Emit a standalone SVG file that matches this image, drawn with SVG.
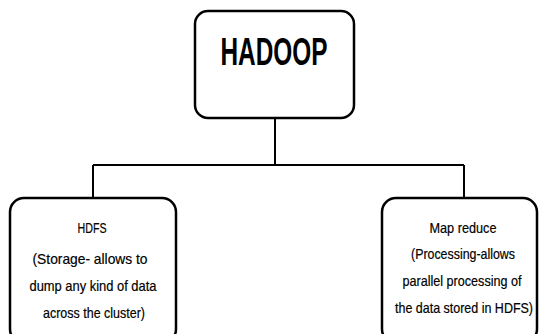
<svg xmlns="http://www.w3.org/2000/svg" width="541" height="334" viewBox="0 0 541 334">
  <style>
    .box { fill: #ffffff; stroke: #000000; stroke-width: 2.5; }
    .wire { fill: none; stroke: #000000; stroke-width: 2; }
    .title { font-family: "Liberation Sans", sans-serif; font-weight: bold; font-size: 38px; fill: #000; text-anchor: middle; }
    .label { font-family: "Liberation Sans", sans-serif; font-size: 15px; fill: #000; stroke: #000; stroke-width: 0.2; text-anchor: middle; }
  </style>
  <rect width="541" height="334" fill="#ffffff"/>
  <g id="connectors">
    <line class="wire" x1="275" y1="118" x2="275" y2="165"/>
    <line class="wire" x1="93" y1="165" x2="464" y2="165"/>
    <line class="wire" x1="93" y1="165" x2="93" y2="198"/>
    <line class="wire" x1="464" y1="165" x2="464" y2="198"/>
  </g>
  <g id="hadoop">
    <rect class="box" x="195" y="11" width="159" height="107" rx="13"/>
    <text class="title" x="274" y="65" textLength="107" lengthAdjust="spacingAndGlyphs">HADOOP</text>
  </g>
  <g id="hdfs">
    <rect class="box" x="10" y="198" width="166" height="145" rx="14"/>
    <text class="label" x="92" y="233" textLength="29" lengthAdjust="spacingAndGlyphs">HDFS</text>
    <text class="label" x="90" y="264" textLength="115" lengthAdjust="spacingAndGlyphs">(Storage- allows to</text>
    <text class="label" x="93" y="291" textLength="127" lengthAdjust="spacingAndGlyphs">dump any kind of data</text>
    <text class="label" x="94" y="318" textLength="102" lengthAdjust="spacingAndGlyphs">across the cluster)</text>
  </g>
  <g id="mapreduce">
    <rect class="box" x="382" y="198" width="155" height="145" rx="14"/>
    <text class="label" x="463" y="233" textLength="67" lengthAdjust="spacingAndGlyphs">Map reduce</text>
    <text class="label" x="463" y="259" textLength="104" lengthAdjust="spacingAndGlyphs">(Processing-allows</text>
    <text class="label" x="462" y="286" textLength="119" lengthAdjust="spacingAndGlyphs">parallel processing of</text>
    <text class="label" x="464" y="313" textLength="138" lengthAdjust="spacingAndGlyphs">the data stored in HDFS)</text>
  </g>
</svg>
